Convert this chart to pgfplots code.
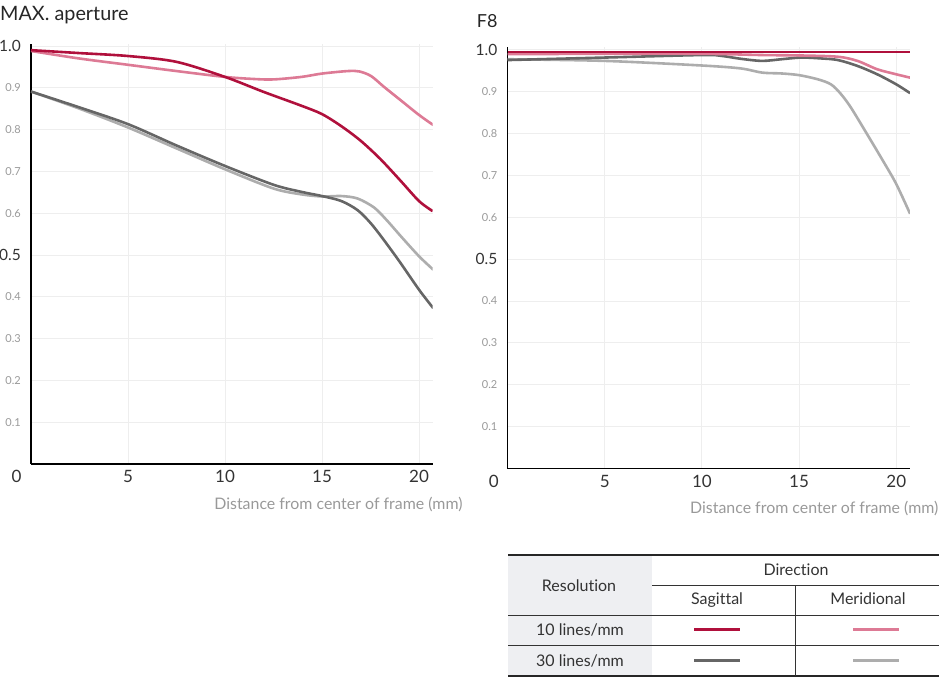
\documentclass[border=0pt]{standalone}
\usepackage{fontspec}
\setmainfont{Lato}[Ligatures={NoCommon}]
\usepackage{pgfplots}
\usepackage{pgfplotstable}
\pgfplotsset{compat=1.18}
\definecolor{cRed}{HTML}{B0103C}
\definecolor{cPink}{HTML}{DD7A95}
\definecolor{cDark}{HTML}{666666}
\definecolor{cLight}{HTML}{ADADAD}
\definecolor{gridc}{HTML}{EEEEEE}
\definecolor{txt}{HTML}{333333}
\definecolor{smalltxt}{HTML}{999999}
\definecolor{tabbg}{HTML}{EEEFF2}
\newcommand\ts[1]{{\fontsize{11}{12}\selectfont\color{smalltxt}#1}}
\newcommand\tbg[1]{{\fontsize{15.5}{16}\selectfont\color{txt}#1}}

% MAX. aperture
\pgfplotstableread{
x y
0 0.990
2.5 0.983
5 0.976
7.5 0.962
10 0.926
12 0.890
13.94 0.857
15 0.837
16 0.808
17 0.773
18.02 0.729
19.06 0.677
20 0.629
20.7 0.605
}\LtenS
\pgfplotstableread{
x y
0 0.988
2.5 0.970
5 0.955
7.5 0.940
10 0.926
11.5 0.921
12.5 0.920
13.94 0.926
15 0.934
16.33 0.940
16.93 0.939
17.53 0.928
18.2 0.902
19.06 0.870
20 0.835
20.73 0.811
}\LtenM
\pgfplotstableread{
x y
0 0.891
2.5 0.853
5 0.813
7.5 0.762
10 0.713
12.5 0.668
13.94 0.651
15 0.641
16 0.629
16.84 0.607
17.53 0.575
18.2 0.535
19 0.484
20 0.417
20.73 0.373
}\LthS
\pgfplotstableread{
x y
0 0.891
2.5 0.850
5 0.805
7.5 0.755
10 0.705
12.5 0.659
13.94 0.645
15 0.640
16 0.641
16.84 0.635
17.7 0.613
18.38 0.581
19.06 0.545
20 0.497
20.73 0.465
}\LthM
% F8
\pgfplotstableread{
x y
0 0.994
20.7 0.994
}\RtenS
\pgfplotstableread{
x y
0 0.989
5 0.990
10 0.990
13.1 0.987
15 0.986
16.98 0.983
18 0.973
19.02 0.953
20 0.941
20.71 0.933
}\RtenM
\pgfplotstableread{
x y
0 0.975
5 0.981
10 0.987
11 0.985
12 0.978
13.1 0.973
14.1 0.977
15.1 0.981
16.1 0.979
17 0.975
18 0.961
19.02 0.941
20 0.917
20.71 0.896
}\RthS
\pgfplotstableread{
x y
0 0.977
5 0.973
10 0.962
12 0.955
13.1 0.945
14.1 0.943
15 0.939
15.97 0.929
16.64 0.917
17.15 0.894
17.66 0.862
18.5 0.798
19.36 0.731
20 0.679
20.71 0.608
}\RthM

\pgfplotsset{mtf/.style={
  scale only axis, xmin=0, xmax=20.7, ymin=0, ymax=1.005,
  axis x line*=bottom, axis y line*=left,
  axis line style={-, line width=1.8pt, black},
  major tick length=0pt,
  grid=major, major grid style={draw=gridc, line width=0.9pt},
  xtick={5,10,15,20}, xticklabels={5,10,15,20},
  xticklabel style={font=\fontsize{17}{18}\selectfont, text=txt, anchor=center, yshift=-12.5pt, inner sep=0pt},
  ytick={0.1,0.2,0.3,0.4,0.5,0.6,0.7,0.8,0.9,1.0},
  yticklabels={\ts{0.1},\ts{0.2},\ts{0.3},\ts{0.4},\tbg{0.5},\ts{0.6},\ts{0.7},\ts{0.8},\ts{0.9},\tbg{1.0}},
  yticklabel style={anchor=east, inner sep=0pt, xshift=-10pt},
  every axis plot/.append style={line width=2.6pt, smooth, tension=0.5},
}}

\begin{document}
\begin{tikzpicture}[x=1pt,y=1pt]
\useasboundingbox (0,0) rectangle (939,677);

\begin{axis}[mtf, at={(31pt,213pt)}, anchor=origin, width=401.6pt, height=420.1pt]
\addplot[cLight] table {\LthM};
\addplot[cDark] table {\LthS};
\addplot[cPink] table {\LtenM};
\addplot[cRed] table {\LtenS};
\end{axis}

\begin{axis}[mtf, at={(507.5pt,208.4pt)}, anchor=origin, width=402.4pt, height=421.1pt]
\addplot[cLight] table {\RthM};
\addplot[cDark] table {\RthS};
\addplot[cPink] table {\RtenM};
\addplot[cRed] table {\RtenS};
\end{axis}

% titles
\node[anchor=base west, inner sep=0pt, font=\fontsize{19.8}{22}\selectfont, text=black!85] at (0,656.3) {MAX. aperture};
\node[anchor=base west, inner sep=0pt, font=\fontsize{18}{20}\selectfont, text=black!85] at (476.7,649.7) {F8};
% zero labels
\node[inner sep=0pt, font=\fontsize{17}{18}\selectfont, text=txt] at (16.5,200.5) {0};
\node[inner sep=0pt, font=\fontsize{17}{18}\selectfont, text=txt] at (493.7,196) {0};
% axis labels
\node[anchor=base east, inner sep=0pt, font=\fontsize{15.9}{17}\selectfont, text=smalltxt] at (462.7,167.7) {Distance from center of frame (mm)};
\node[anchor=base east, inner sep=0pt, font=\fontsize{15.9}{17}\selectfont, text=smalltxt] at (938.5,163.7) {Distance from center of frame (mm)};

% legend table
\fill[tabbg] (508,1.3) rectangle (652,122);
\draw[line width=1.6pt, black!85] (508,122) -- (939,122);
\draw[line width=0.9pt, black!80] (652,92) -- (939,92);
\draw[line width=0.9pt, black!80] (508,62) -- (939,62);
\draw[line width=0.9pt, black!80] (508,31.3) -- (939,31.3);
\draw[line width=2pt, black!85] (508,1.3) -- (939,1.3);
\draw[line width=0.9pt, black!80] (795.3,1.3) -- (795.3,92);
\begin{scope}[every node/.style={anchor=base, inner sep=0pt, font=\fontsize{16}{17}\selectfont, text=txt}]
\node at (579,85.3) {Resolution};
\node at (796,101.3) {Direction};
\node at (717,72) {Sagittal};
\node at (868,72) {Meridional};
\node at (580,41.3) {10 lines/mm};
\node at (580,10.3) {30 lines/mm};
\end{scope}
\draw[line width=3pt, cRed] (694,47) -- (740,47);
\draw[line width=3pt, cPink] (853,47) -- (899,47);
\draw[line width=3pt, cDark] (694,17) -- (740,17);
\draw[line width=3pt, cLight] (853,17) -- (899,17);
\end{tikzpicture}
\end{document}
